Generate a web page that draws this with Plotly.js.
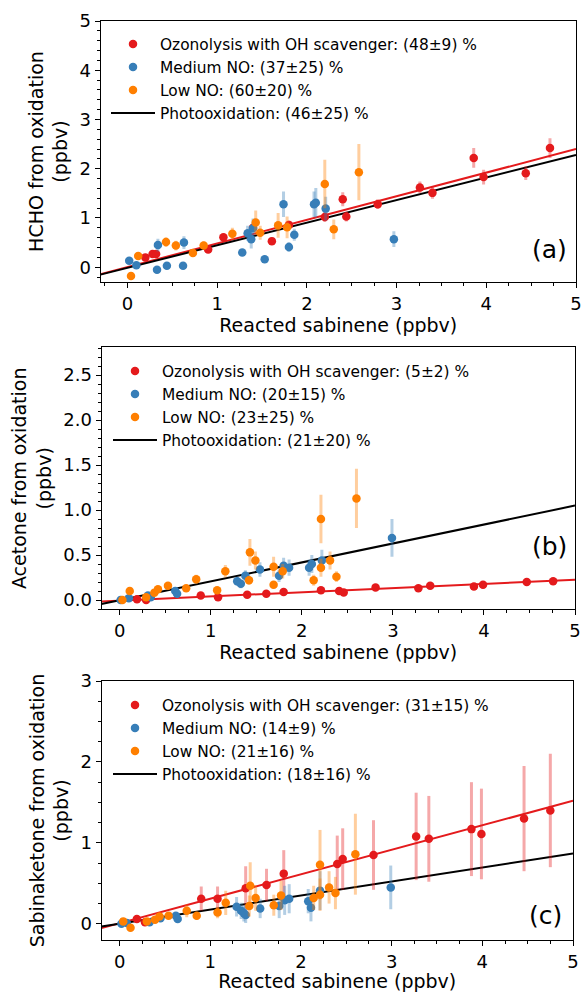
<!DOCTYPE html>
<html>
<head>
<meta charset="utf-8">
<script src="https://cdn.plot.ly/plotly-3.0.1.min.js"></script>
<style>html,body{margin:0;padding:0;background:#fff;}#chart{width:582px;height:992px;}</style>
</head>
<body>
<div id="chart"></div>
<script>
// ---------- Panel (a): HCHO ----------
const aOzoX = [0.20, 0.28, 0.32, 0.90, 1.07, 1.40, 1.61, 1.80, 2.20, 2.40, 2.44, 2.79, 3.26, 3.40, 3.86, 3.97, 4.44, 4.71];
const aOzoY = [0.20, 0.27, 0.27, 0.36, 0.61, 0.80, 0.53, 0.86, 1.02, 1.38, 1.03, 1.28, 1.62, 1.51, 2.22, 1.83, 1.91, 2.42];
const aOzoE = [0.05, 0.05, 0.05, 0.06, 0.07, 0.08, 0.08, 0.09, 0.10, 0.14, 0.10, 0.10, 0.12, 0.12, 0.20, 0.15, 0.14, 0.20];
const aMedX = [0.02, 0.10, 0.33, 0.34, 0.44, 0.62, 0.63, 1.28, 1.34, 1.38, 1.40, 1.53, 1.74, 1.80, 1.86, 2.08, 2.10, 2.21, 2.97];
const aMedY = [0.13, 0.04, -0.05, 0.45, 0.03, 0.03, 0.50, 0.30, 0.69, 0.57, 0.79, 0.16, 1.28, 0.41, 0.66, 1.28, 1.31, 1.19, 0.57];
const aMedE = [0.05, 0.04, 0.04, 0.13, 0.04, 0.04, 0.13, 0.06, 0.15, 0.19, 0.20, 0.06, 0.26, 0.10, 0.12, 0.26, 0.30, 0.24, 0.16];
const aLowX = [0.04, 0.12, 0.43, 0.54, 0.73, 0.85, 1.17, 1.43, 1.48, 1.68, 1.78, 2.20, 2.30, 2.58];
const aLowY = [-0.18, 0.23, 0.51, 0.44, 0.29, 0.44, 0.68, 0.91, 0.70, 0.85, 0.81, 1.69, 0.77, 1.93];
const aLowE = [0.04, 0.05, 0.10, 0.10, 0.05, 0.08, 0.12, 0.24, 0.14, 0.25, 0.22, 0.49, 0.20, 0.57];
const aFitX = [-0.3, 5];
const aFitOzo = [-0.14, 2.40];
const aFitPhoto = [-0.15, 2.28];
const aLabels = ["Ozonolysis with OH scavenger: (48±9) %", "Medium NO: (37±25) %", "Low NO: (60±20) %", "Photooxidation: (46±25) %"];

// ---------- Panel (b): Acetone ----------
const bOzoX = [0.19, 0.29, 0.89, 1.08, 1.40, 1.61, 1.80, 2.21, 2.41, 2.46, 2.81, 3.28, 3.41, 3.89, 3.99, 4.47, 4.76];
const bOzoY = [0.01, 0.00, 0.05, 0.03, 0.06, 0.07, 0.09, 0.11, 0.10, 0.085, 0.14, 0.13, 0.16, 0.15, 0.17, 0.20, 0.21];
const bOzoE = [0.01, 0.01, 0.01, 0.01, 0.01, 0.01, 0.015, 0.015, 0.015, 0.015, 0.02, 0.02, 0.02, 0.02, 0.02, 0.02, 0.02];
const bMedX = [0.01, 0.10, 0.31, 0.34, 0.61, 0.63, 1.29, 1.33, 1.38, 1.54, 1.75, 1.80, 1.86, 2.08, 2.11, 2.22, 2.99];
const bMedY = [0.00, 0.02, 0.05, 0.03, 0.10, 0.07, 0.21, 0.18, 0.27, 0.34, 0.27, 0.38, 0.36, 0.36, 0.40, 0.44, 0.69];
const bMedE = [0.01, 0.01, 0.02, 0.02, 0.03, 0.03, 0.05, 0.05, 0.06, 0.08, 0.07, 0.09, 0.09, 0.09, 0.10, 0.12, 0.21];
const bLowX = [0.03, 0.11, 0.29, 0.38, 0.42, 0.53, 0.73, 0.84, 1.07, 1.16, 1.42, 1.43, 1.49, 1.69, 1.69, 1.79, 2.13, 2.21, 2.21, 2.31, 2.38, 2.60];
const bLowY = [0.00, 0.10, 0.03, 0.08, 0.12, 0.16, 0.13, 0.23, 0.11, 0.32, 0.22, 0.53, 0.44, 0.17, 0.37, 0.32, 0.22, 0.90, 0.36, 0.44, 0.26, 1.13];
const bLowE = [0.01, 0.02, 0.01, 0.02, 0.02, 0.03, 0.03, 0.05, 0.03, 0.07, 0.05, 0.15, 0.10, 0.04, 0.11, 0.08, 0.06, 0.27, 0.10, 0.10, 0.06, 0.33];
const bFitX = [-0.2, 5];
const bFitOzo = [-0.015, 0.225];
const bFitPhoto = [-0.045, 1.05];
const bLabels = ["Ozonolysis with OH scavenger: (5±2) %", "Medium NO: (20±15) %", "Low NO: (23±25) %", "Photooxidation: (21±20) %"];

// ---------- Panel (c): Sabinaketone ----------
const cOzoX = [0.19, 0.28, 0.90, 1.08, 1.39, 1.62, 1.81, 2.40, 2.46, 2.80, 3.27, 3.41, 3.88, 3.99, 4.46, 4.75];
const cOzoY = [0.06, 0.02, 0.31, 0.31, 0.44, 0.48, 0.62, 0.74, 0.80, 0.85, 1.08, 1.05, 1.17, 1.11, 1.30, 1.40];
const cOzoE = [0.03, 0.02, 0.15, 0.15, 0.27, 0.20, 0.29, 0.35, 0.38, 0.43, 0.54, 0.53, 0.58, 0.56, 0.65, 0.70];
const cMedX = [0.02, 0.08, 0.33, 0.45, 0.62, 0.64, 1.29, 1.34, 1.37, 1.39, 1.55, 1.76, 1.82, 1.87, 2.08, 2.11, 2.21, 2.99];
const cMedY = [0.00, 0.01, 0.02, 0.07, 0.10, 0.06, 0.21, 0.16, 0.13, 0.11, 0.19, 0.22, 0.29, 0.31, 0.28, 0.20, 0.41, 0.45];
const cMedE = [0.02, 0.02, 0.02, 0.03, 0.04, 0.04, 0.12, 0.10, 0.10, 0.10, 0.12, 0.15, 0.18, 0.18, 0.15, 0.17, 0.24, 0.27];
const cLowX = [0.04, 0.12, 0.30, 0.39, 0.44, 0.54, 0.74, 0.85, 1.08, 1.17, 1.43, 1.44, 1.50, 1.70, 1.78, 2.14, 2.21, 2.21, 2.31, 2.38, 2.60];
const cLowY = [0.03, -0.05, 0.03, 0.05, 0.09, 0.10, 0.16, 0.10, 0.14, 0.26, 0.22, 0.47, 0.32, 0.23, 0.35, 0.32, 0.73, 0.36, 0.45, 0.38, 0.86];
const cLowE = [0.02, 0.02, 0.02, 0.03, 0.03, 0.04, 0.08, 0.05, 0.07, 0.15, 0.13, 0.29, 0.16, 0.13, 0.18, 0.15, 0.43, 0.20, 0.20, 0.20, 0.50];
const cFitX = [-0.2, 5];
const cFitOzo = [-0.053, 1.52];
const cFitPhoto = [-0.033, 0.87];
const cLabels = ["Ozonolysis with OH scavenger: (31±15) %", "Medium NO: (14±9) %", "Low NO: (21±16) %", "Photooxidation: (18±16) %"];

const xTitle = "Reacted sabinene (ppbv)";
const yTitles = ["HCHO from oxidation<br>(ppbv)", "Acetone from oxidation<br>(ppbv)", "Sabinaketone from oxidation<br>(ppbv)"];
const panelTags = ["(a)", "(b)", "(c)"];

// ---------- styling ----------
const RED = '#e41a1c', BLUE = '#377eb8', ORANGE = '#ff7f00';
const RED_E = 'rgba(228,26,28,0.38)', BLUE_E = 'rgba(55,126,184,0.38)', ORANGE_E = 'rgba(255,127,0,0.38)';
const FONT = 'DejaVu Sans, sans-serif';

function panel(idx, ozo, med, low, fitX, fitOzo, fitPhoto, labels) {
  const sfx = idx === 1 ? '' : String(idx);
  const xa = 'x' + sfx, ya = 'y' + sfx, lg = 'legend' + sfx;
  const pts = (d, col, ecol, name, rank) => ({
    type: 'scatter', mode: 'markers', x: d[0], y: d[1], xaxis: xa, yaxis: ya,
    name: name, legend: lg, legendrank: rank,
    marker: {color: col, size: 8.5},
    error_y: {type: 'data', array: d[2], visible: true, color: ecol, thickness: 3, width: 0},
    hoverinfo: 'x+y'
  });
  return [
    {type: 'scatter', mode: 'lines', x: fitX, y: fitOzo, xaxis: xa, yaxis: ya, showlegend: false,
      line: {color: RED, width: 2}, legend: lg},
    {type: 'scatter', mode: 'lines', x: fitX, y: fitPhoto, xaxis: xa, yaxis: ya, name: labels[3],
      legend: lg, legendrank: 4, line: {color: '#000', width: 2}},
    pts(ozo, RED, RED_E, labels[0], 1),
    pts(med, BLUE, BLUE_E, labels[1], 2),
    pts(low, ORANGE, ORANGE_E, labels[2], 3)
  ];
}

const data = [].concat(
  panel(1, [aOzoX, aOzoY, aOzoE], [aMedX, aMedY, aMedE], [aLowX, aLowY, aLowE], aFitX, aFitOzo, aFitPhoto, aLabels),
  panel(2, [bOzoX, bOzoY, bOzoE], [bMedX, bMedY, bMedE], [bLowX, bLowY, bLowE], bFitX, bFitOzo, bFitPhoto, bLabels),
  panel(3, [cOzoX, cOzoY, cOzoE], [cMedX, cMedY, cMedE], [cLowX, cLowY, cLowE], cFitX, cFitOzo, cFitPhoto, cLabels)
);

const W = 582, H = 992;
const px = (a, b) => [a / W, b / W];
const py = (top, bot) => [1 - bot / H, 1 - top / H];

function xaxis(dom, range, anchor) {
  return {
    domain: dom, range: range, anchor: anchor,
    showline: true, linecolor: '#000', linewidth: 1, mirror: true,
    ticks: 'outside', ticklen: 5, tickwidth: 1, tickcolor: '#000',
    tick0: 0, dtick: 1, showgrid: false, zeroline: false,
    minor: {dtick: 0.25, ticks: 'outside', ticklen: 3, tickcolor: '#000', showgrid: false},
    tickfont: {family: FONT, size: 18, color: '#000'},
    title: {text: xTitle, font: {family: FONT, size: 19, color: '#000'}, standoff: 4}
  };
}
function yaxis(dom, range, anchor, dtick, minor, fmt, title) {
  return {
    domain: dom, range: range, anchor: anchor,
    showline: true, linecolor: '#000', linewidth: 1, mirror: true,
    ticks: 'outside', ticklen: 5, tickwidth: 1, tickcolor: '#000',
    tick0: 0, dtick: dtick, tickformat: fmt, showgrid: false, zeroline: false,
    minor: {dtick: minor, ticks: 'outside', ticklen: 3, tickcolor: '#000', showgrid: false},
    tickfont: {family: FONT, size: 18, color: '#000'},
    title: {text: title, font: {family: FONT, size: 19, color: '#000'}, standoff: 6}
  };
}
function legend(xpx, ypx) {
  return {x: xpx / W, y: 1 - ypx / H, xanchor: 'left', yanchor: 'top',
    bgcolor: 'rgba(0,0,0,0)', borderwidth: 0, traceorder: 'normal', itemwidth: 44,
    font: {family: FONT, size: 15.4, color: '#000'}};
}

const layout = {
  width: W, height: H,
  margin: {l: 0, r: 0, t: 0, b: 0},
  paper_bgcolor: '#fff', plot_bgcolor: '#fff',
  showlegend: true,
  xaxis: xaxis(px(100.5, 576), [-0.3, 5], 'y'),
  yaxis: yaxis(py(21, 282), [-0.3, 5], 'x', 1, 0.2, 'd', yTitles[0]),
  xaxis2: xaxis(px(101.5, 575), [-0.2, 5], 'y2'),
  yaxis2: yaxis(py(347.3, 609.3), [-0.103, 2.81], 'x2', 0.5, 0.1, '.1f', yTitles[1]),
  xaxis3: xaxis(px(101.5, 573), [-0.2, 5], 'y3'),
  yaxis3: yaxis(py(681, 940), [-0.2, 3], 'x3', 1, 0.25, 'd', yTitles[2]),
  legend: legend(106, 27.5),
  legend2: legend(108, 354.5),
  legend3: legend(108, 688.5),
  annotations: [
    {xref: 'x domain', yref: 'y domain', x: 0.944, y: 0.126, text: panelTags[0], showarrow: false,
      xanchor: 'center', yanchor: 'middle', font: {family: FONT, size: 25, color: '#000'}},
    {xref: 'x2 domain', yref: 'y2 domain', x: 0.946, y: 0.239, text: panelTags[1], showarrow: false,
      xanchor: 'center', yanchor: 'middle', font: {family: FONT, size: 25, color: '#000'}},
    {xref: 'x3 domain', yref: 'y3 domain', x: 0.942, y: 0.093, text: panelTags[2], showarrow: false,
      xanchor: 'center', yanchor: 'middle', font: {family: FONT, size: 25, color: '#000'}}
  ]
};

Plotly.newPlot('chart', data, layout, {displayModeBar: false, staticPlot: true});
</script>
</body>
</html>
